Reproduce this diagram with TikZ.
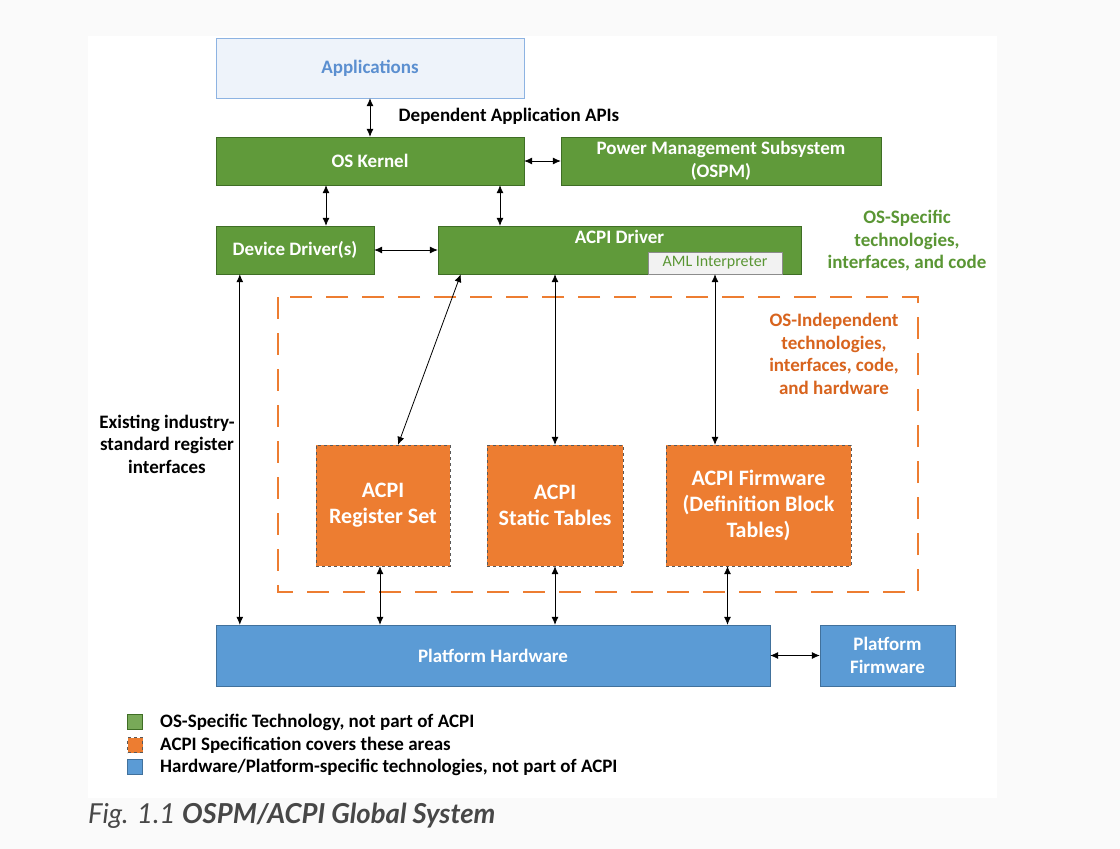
\documentclass[tikz,border=0pt]{standalone}
\usepackage{fontspec}
\setmainfont{Carlito}
\newfontfamily\capfont{Lato}
\usepackage{tikz}
\usetikzlibrary{arrows.meta,calc,positioning}

\definecolor{pagegray}{HTML}{FAFAFA}
\definecolor{osgreen}{HTML}{609A3A}
\definecolor{osgreenline}{HTML}{3F6E25}
\definecolor{osgreentext}{HTML}{5A9634}
\definecolor{acpiorange}{HTML}{ED7D31}
\definecolor{acpiorangetext}{HTML}{D8641E}
\definecolor{hwblue}{HTML}{5B9BD5}
\definecolor{hwblueline}{HTML}{41719C}
\definecolor{appfill}{HTML}{EEF3FA}
\definecolor{appline}{HTML}{8DB3E2}
\definecolor{apptext}{HTML}{5B8FD0}
\definecolor{capgray}{HTML}{474747}

\tikzset{
  boxfont/.style={font=\fontsize{19}{22.5}\selectfont\bfseries},
  osbox/.style={boxfont, draw=osgreenline, fill=osgreen, text=white, inner sep=0pt, align=center},
  specbox/.style={font=\fontsize{22}{26}\selectfont\bfseries, draw=black!65, dashed, fill=acpiorange, text=white, inner sep=0pt, align=center},
  hwbox/.style={boxfont, draw=hwblueline, fill=hwblue, text=white, inner sep=0pt, align=center},
  link/.style={{Latex[length=8pt,width=7pt]}-{Latex[length=8pt,width=7pt]}, line width=0.8pt},
  legkey/.style={minimum size=15pt, inner sep=0pt},
  legtext/.style={font=\fontsize{19}{23}\selectfont\bfseries, anchor=west, inner sep=0pt}
}

\begin{document}
\begin{tikzpicture}[x=1pt,y=-1pt]
%%Page
\fill[pagegray] (0,0) rectangle (1120,849);
\fill[white] (88,36) rectangle (997,798);
\useasboundingbox (0,0) rectangle (1120,849);

%%OS layer
\node[boxfont, draw=appline, fill=appfill, text=apptext, minimum width=308pt, minimum height=60pt] (apps) at (370,68) {Applications};
\node[osbox, minimum width=308pt, minimum height=48pt] (kernel) at (370,161) {OS Kernel};
\node[osbox, minimum width=320pt, minimum height=48pt] (ospm) at (721,161) {Power Management Subsystem\\(OSPM)};
\node[osbox, minimum width=158pt, minimum height=48pt] (dd) at (295,250) {Device Driver(s)};
\node[osbox, minimum width=363pt, minimum height=48pt] (acpi) at (619.5,250) {};
\node[boxfont, text=white, anchor=north, inner sep=0pt] (acpilabel) at ($(acpi.north)+(0,4)$) {ACPI Driver};
\node[draw=black!45, fill=black!5, text=osgreentext, font=\fontsize{16}{18}\selectfont, minimum width=134pt, minimum height=22pt, inner sep=0pt] (aml) at (715,263) {AML Interpreter};

%%ACPI area
\draw[acpiorange, line width=1.2pt, dash pattern=on 22pt off 14pt] (278,297) rectangle (918,592);
\node[specbox, minimum width=134pt, minimum height=121pt] (regset) at (383,505.5) {ACPI\\Register Set};
\node[specbox, minimum width=136pt, minimum height=121pt] (static) at (555,505.5) {ACPI\\Static Tables};
\node[specbox, minimum width=185pt, minimum height=121pt] (fw) at (758.5,505.5) {ACPI Firmware\\(Definition Block\\Tables)};

%%Hardware
\node[hwbox, minimum width=554pt, minimum height=61pt] (ph) at (493,655.5) {Platform Hardware};
\node[hwbox, minimum width=135pt, minimum height=61pt] (pf) at (887.5,655.5) {Platform\\Firmware};

%%Links
\draw[link] (apps.south) -- (kernel.north);
\draw[link] (kernel.east) -- (ospm.west);
\coordinate (k1) at ($(dd.north)+(31,0)$);
\draw[link] (k1 |- kernel.south) -- (k1);
\coordinate (k2) at ($(acpi.north)+(-119.5,0)$);
\draw[link] (k2 |- kernel.south) -- (k2);
\draw[link] (dd.east) -- (acpi.west);
\draw[link] ($(acpi.south west)+(23,0)$) -- ($(regset.north)+(15,0)$);
\draw[link] (acpi.south -| static.north) -- (static.north);
\draw[link] (aml.south) -- (aml.south |- fw.north);
\coordinate (d1) at ($(dd.south west)+(24,0)$);
\draw[link] (d1) -- (d1 |- ph.north);
\coordinate (r1) at ($(regset.south)+(-3,0)$);
\draw[link] (r1) -- (r1 |- ph.north);
\draw[link] (static.south) -- (static.south |- ph.north);
\coordinate (f1) at ($(fw.south)+(-31,0)$);
\draw[link] (f1) -- (f1 |- ph.north);
\draw[link] (ph.east) -- (pf.west);

%%Label
\node[boxfont] (apilabel) at (509,116) {Dependent Application APIs};
\node[boxfont, text=osgreentext, align=center] (oslabel) at (907,241) {OS-Specific\\technologies,\\interfaces, and code};
\node[boxfont, text=acpiorangetext, align=center] (indlabel) at (834,354) {OS-Independent\\technologies,\\interfaces, code,\\and hardware};
\node[boxfont, align=center] (reglabel) at (167,444) {Existing industry-\\standard register\\interfaces};

%%Legend
\node[legkey, draw=osgreenline, fill=osgreen!85] (keyos) at (135,722) {};
\node[legkey, draw=black!65, dashed, fill=acpiorange] (keyspec) at (135,745) {};
\node[legkey, draw=hwblueline, fill=hwblue] (keyhw) at (135,767) {};
\node[legtext] (legos) at (160,722) {OS-Specific Technology, not part of ACPI};
\node[legtext] (legspec) at (160,745) {ACPI Specification covers these areas};
\node[legtext] (leghw) at (160,767) {Hardware/Platform-specific technologies, not part of ACPI};

%%Caption
\node[anchor=west, inner sep=0pt, text=capgray, font=\capfont\fontsize{27.5}{31}\selectfont] (caption) at (88,816) {\itshape Fig. 1.1 \bfseries OSPM/ACPI Global System};
\end{tikzpicture}
\end{document}
